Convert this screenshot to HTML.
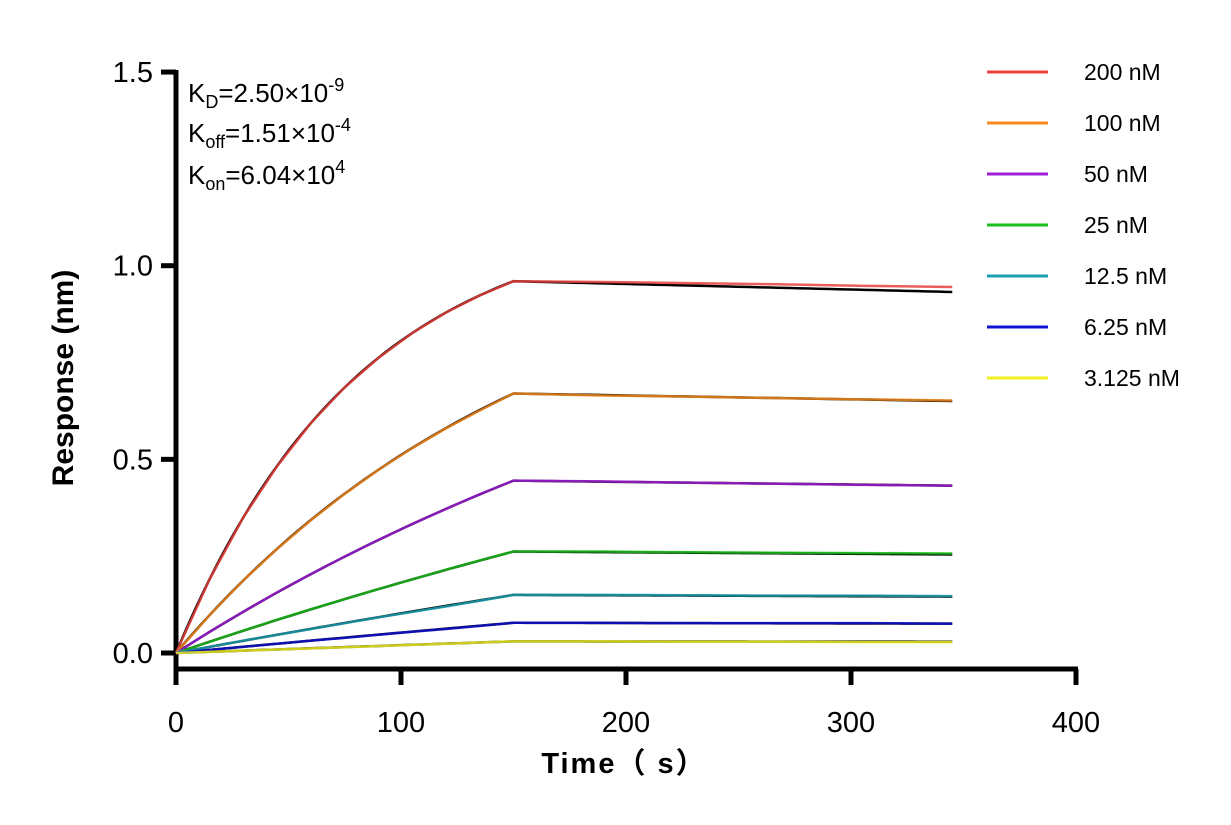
<!DOCTYPE html>
<html><head><meta charset="utf-8"><style>
body{margin:0;background:#fff}
svg{display:block;font-family:"Liberation Sans","Noto Sans CJK SC",sans-serif}
</style></head><body>
<svg id="chart" width="1231" height="825" viewBox="0 0 1231 825"></svg>
<script>
const concLabels=["200 nM","100 nM","50 nM","25 nM","12.5 nM","6.25 nM","3.125 nM"];
const colors=["#e8413c","#f58a1f","#a020d8","#1bbf1b","#1aa0b0","#1010d0","#f0f020"];
const concM=[200e-9,100e-9,50e-9,25e-9,12.5e-9,6.25e-9,3.125e-9];
const kon=6.04e4, koff=1.51e-4;
const assocTimes=[0,15,30,45,60,75,90,105,120,135,150];
const dissTimes=[150,189,228,267,306,345];
const assocData=[
[0,0.191,0.351,0.483,0.594,0.686,0.762,0.826,0.879,0.923,0.96],
[0,0.098,0.188,0.269,0.343,0.411,0.473,0.529,0.58,0.626,0.67],
[0,0.055,0.107,0.157,0.204,0.249,0.292,0.333,0.372,0.41,0.445],
[0,0.029,0.058,0.086,0.113,0.139,0.165,0.19,0.215,0.239,0.262],
[0,0.016,0.032,0.047,0.062,0.077,0.092,0.106,0.12,0.135,0.15],
[0,0.008,0.016,0.024,0.032,0.039,0.047,0.055,0.062,0.07,0.078],
[0,0.003,0.006,0.009,0.012,0.015,0.018,0.021,0.024,0.027,0.03]];
const dissData=[
[0.96,0.958,0.955,0.952,0.948,0.945],
[0.67,0.665,0.662,0.658,0.655,0.652],
[0.445,0.443,0.44,0.437,0.434,0.432],
[0.262,0.262,0.26,0.259,0.258,0.257],
[0.15,0.15,0.149,0.148,0.148,0.147],
[0.078,0.078,0.077,0.077,0.077,0.076],
[0.03,0.03,0.029,0.029,0.028,0.028]];
const xTicks=[0,100,200,300,400];
const yTicks=[0,0.5,1.0,1.5];
const yTickLabels=["0.0","0.5","1.0","1.5"];

const svg=document.getElementById('chart');
const NS="http://www.w3.org/2000/svg";
const X=t=>176+t*2.25;
const Y=v=>653-v*387.3;
function mk(tag,attrs,parent){const e=document.createElementNS(NS,tag);for(const k in attrs)e.setAttribute(k,attrs[k]);(parent||svg).appendChild(e);return e;}

let a=mk('line',{x1:176,y1:70,x2:176,y2:671,stroke:'#000','stroke-width':5});


a=mk('line',{x1:174,y1:669,x2:1078,y2:669,stroke:'#000','stroke-width':5});


yTicks.forEach((v,i)=>{
 const t=mk('line',{x1:161,x2:176,y1:Y(v),y2:Y(v),stroke:'#000','stroke-width':5});
 
 
 const l=mk('text',{x:153,y:Y(v)+10,'text-anchor':'end','font-size':29});
 l.textContent=yTickLabels[i];
 
 
});
xTicks.forEach(v=>{
 const t=mk('line',{x1:X(v),x2:X(v),y1:669,y2:685,stroke:'#000','stroke-width':5});
 
 
 const l=mk('text',{x:X(v),y:732,'text-anchor':'middle','font-size':29});
 l.textContent=v;
 
 
});
let tt=mk('text',{x:624,y:773,'text-anchor':'middle','font-size':29,'font-weight':'bold','letter-spacing':'2'});
tt.textContent="Time（ s）";


tt=mk('text',{x:73,y:378,'text-anchor':'middle','font-size':30,'font-weight':'bold',transform:'rotate(-90 73 378)'});
tt.textContent="Response (nm)";



const fitT=[];for(let t=0;t<=345;t+=3)fitT.push(t);
concM.forEach((c,i)=>{
 const k=kon*c+koff, R150=assocData[i][10];
 const Rmax=R150/(1-Math.exp(-k*150));
 const pts=fitT.map(t=>{const v=t<=150?Rmax*(1-Math.exp(-k*t)):R150*Math.exp(-koff*(t-150));return X(t)+','+Y(v);});
 const p=mk('polyline',{points:pts.join(' '),fill:'none',stroke:'#000','stroke-width':2.5});
 
 
});
concM.forEach((c,i)=>{
 const pts=assocTimes.map((t,j)=>X(t)+','+Y(assocData[i][j])).concat(dissTimes.slice(1).map((t,j)=>X(t)+','+Y(dissData[i][j+1])));
 const p=mk('polyline',{points:pts.join(' '),fill:'none',stroke:colors[i],'stroke-width':2.5,'stroke-linejoin':'round','stroke-opacity':0.85});
 
 
});

concLabels.forEach((lab,i)=>{
 const y=72+i*51;
 const g=mk('g',{});
 
 
 mk('line',{x1:987,x2:1048,y1:y,y2:y,stroke:colors[i],'stroke-width':3},g);
 const t=mk('text',{x:1084,y:y+8,'font-size':23},g);
 t.textContent=lab;
});

const ann=mk('text',{x:188,y:102,'font-size':26});


ann.innerHTML='<tspan>K</tspan><tspan font-size="18" dy="6">D</tspan><tspan dy="-6">=2.50×10</tspan><tspan font-size="18" dy="-11">-9</tspan>'+
'<tspan x="188" y="142">K</tspan><tspan font-size="18" dy="6">off</tspan><tspan dy="-6">=1.51×10</tspan><tspan font-size="18" dy="-11">-4</tspan>'+
'<tspan x="188" y="184">K</tspan><tspan font-size="18" dy="6">on</tspan><tspan dy="-6">=6.04×10</tspan><tspan font-size="18" dy="-11">4</tspan>';
</script>
</body></html>
